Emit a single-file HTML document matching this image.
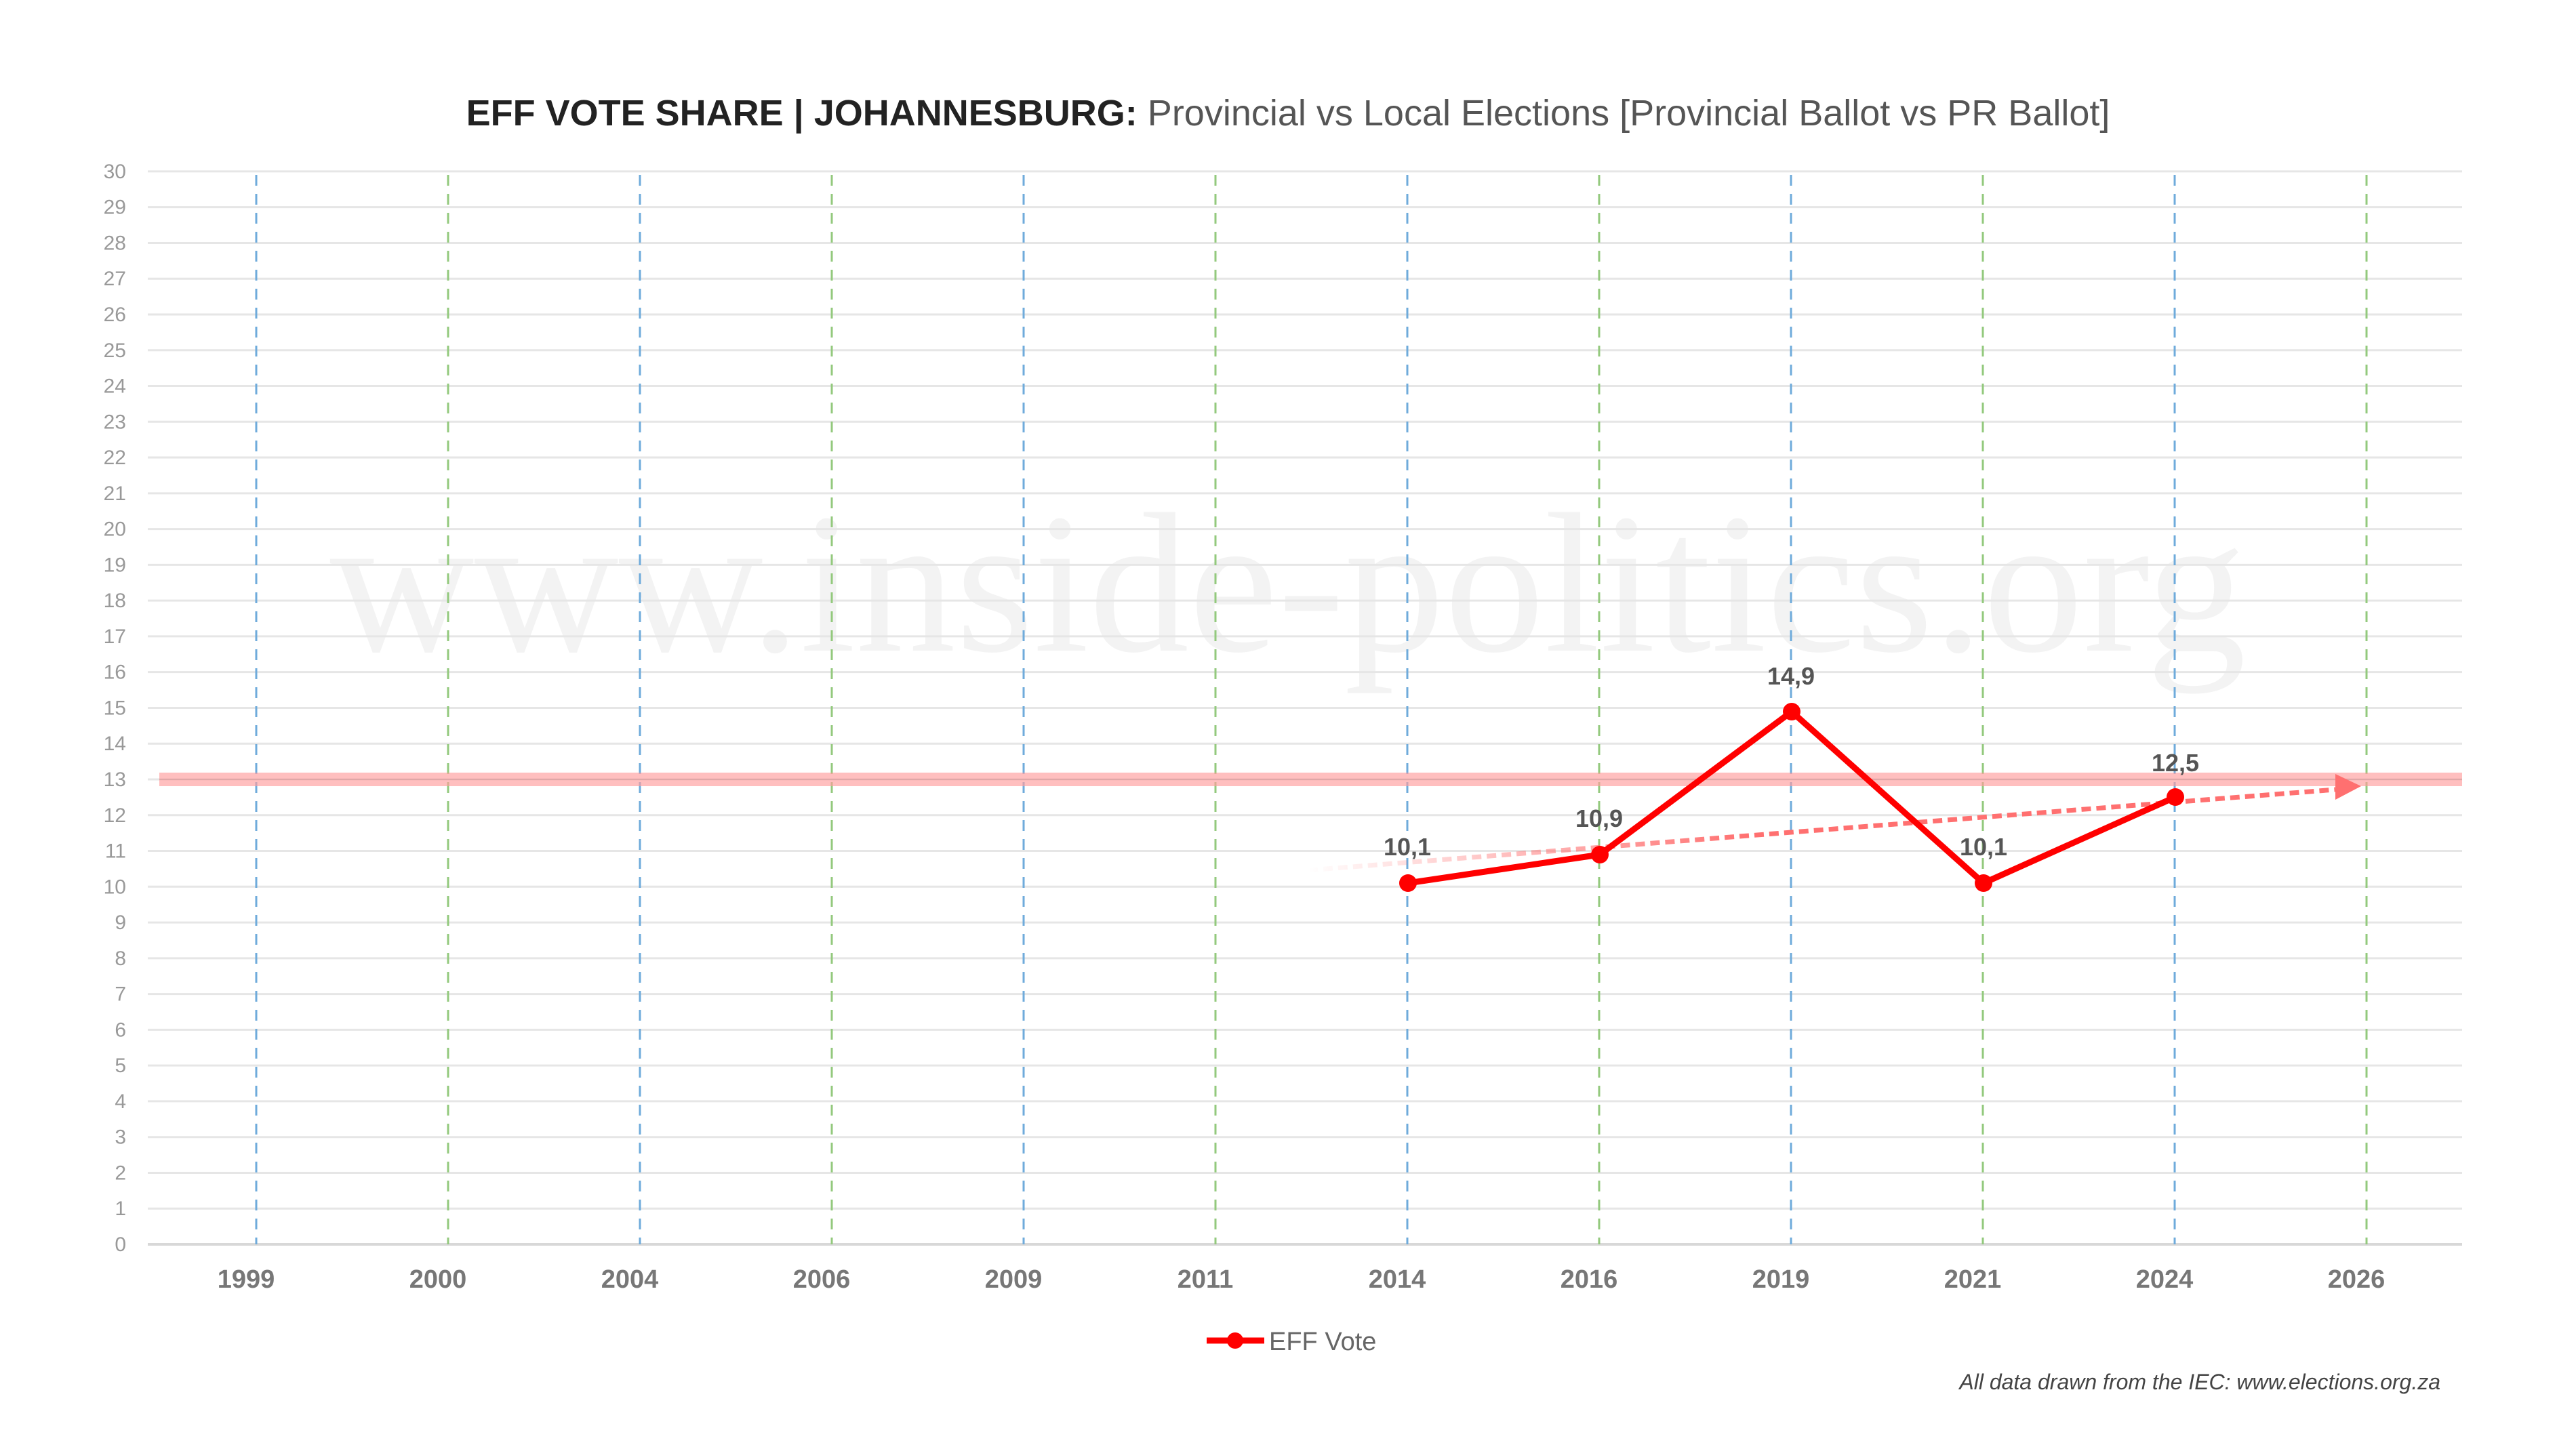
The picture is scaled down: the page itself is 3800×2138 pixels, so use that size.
<!DOCTYPE html>
<html><head><meta charset="utf-8"><style>
html,body{margin:0;padding:0;background:#fff;}
svg{display:block;}
</style></head><body>
<svg width="3800" height="2138" viewBox="0 0 3800 2138" xmlns="http://www.w3.org/2000/svg" font-family="Liberation Sans, sans-serif">
<rect width="3800" height="2138" fill="#fff"/>
<text x="1900" y="960" text-anchor="middle" font-family="Liberation Serif, serif" font-size="295" fill="#f3f3f3">www.inside-politics.org</text>
<text x="1900" y="185" text-anchor="middle" font-size="54" fill="#555"><tspan font-weight="bold" fill="#222">EFF VOTE SHARE | JOHANNESBURG:</tspan> Provincial vs Local Elections [Provincial Ballot vs PR Ballot]</text>
<g id="grid"></g>
<g id="ylab" font-size="30" fill="#999" text-anchor="end"></g>
<g id="vlines" stroke-width="3" stroke-dasharray="16 12"></g>
<g id="xlab" font-size="38" font-weight="bold" fill="#777" text-anchor="middle"></g>
<rect x="235" y="1140" width="3397" height="20" fill="#ff9c9c" opacity="0.65"/>
<line x1="235" y1="1150" x2="3632" y2="1150" stroke="#c99" stroke-width="2" opacity="0.5"/>
<defs><linearGradient id="tg" x1="1930" y1="0" x2="2580" y2="0" gradientUnits="userSpaceOnUse">
<stop offset="0" stop-color="#ff7070" stop-opacity="0"/><stop offset="1" stop-color="#ff7070" stop-opacity="1"/></linearGradient></defs>
<line x1="1930" y1="1284" x2="3445" y2="1165" stroke="url(#tg)" stroke-width="7" stroke-dasharray="14 8"/>
<polygon points="3445,1142 3483,1160 3445,1180" fill="#ff7070"/>
<polyline points="2077,1303 2360,1261 2643,1050 2926,1303 3209,1176" fill="none" stroke="#ff0000" stroke-width="9" stroke-linejoin="round"/>
<g fill="#ff0000">
<circle cx="2077" cy="1303" r="13"/><circle cx="2360" cy="1261" r="13"/><circle cx="2643" cy="1050" r="13"/><circle cx="2926" cy="1303" r="13"/><circle cx="3209" cy="1176" r="13"/>
</g>
<g font-size="36" font-weight="bold" fill="#555" text-anchor="middle">
<text x="2076" y="1262">10,1</text><text x="2359" y="1220">10,9</text><text x="2642" y="1010">14,9</text><text x="2926" y="1262">10,1</text><text x="3209" y="1138">12,5</text>
</g>
<line x1="1780" y1="1978" x2="1865" y2="1978" stroke="#ff0000" stroke-width="9"/>
<circle cx="1822" cy="1978" r="12" fill="#ff0000"/>
<text x="1872" y="1992" font-size="38" fill="#666">EFF Vote</text>
<text x="3600" y="2050" text-anchor="end" font-size="32" font-style="italic" fill="#444">All data drawn from the IEC: www.elections.org.za</text>
<script>
var ns="http://www.w3.org/2000/svg";
function el(p,t,a,txt){var e=document.createElementNS(ns,t);for(var k in a)e.setAttribute(k,a[k]);if(txt!==undefined)e.textContent=txt;document.getElementById(p).appendChild(e);}
for(var v=0;v<=30;v++){var y=1836-v*52.77;el("grid","line",{x1:218,x2:3632,y1:y,y2:y,stroke:v==0?"#d8d8d8":"#e6e6e6","stroke-width":v==0?4:3});el("ylab","text",{x:186,y:y+10},String(v));}
var yrs=["1999","2000","2004","2006","2009","2011","2014","2016","2019","2021","2024","2026"];
for(var i=0;i<12;i++){var x=378+i*283;el("vlines","line",{x1:x,x2:x,y1:258,y2:1836,stroke:i%2==0?"#6fabdb":"#93c97d"});el("xlab","text",{x:x-15,y:1900},yrs[i]);}
</script>
</svg>
</body></html>
